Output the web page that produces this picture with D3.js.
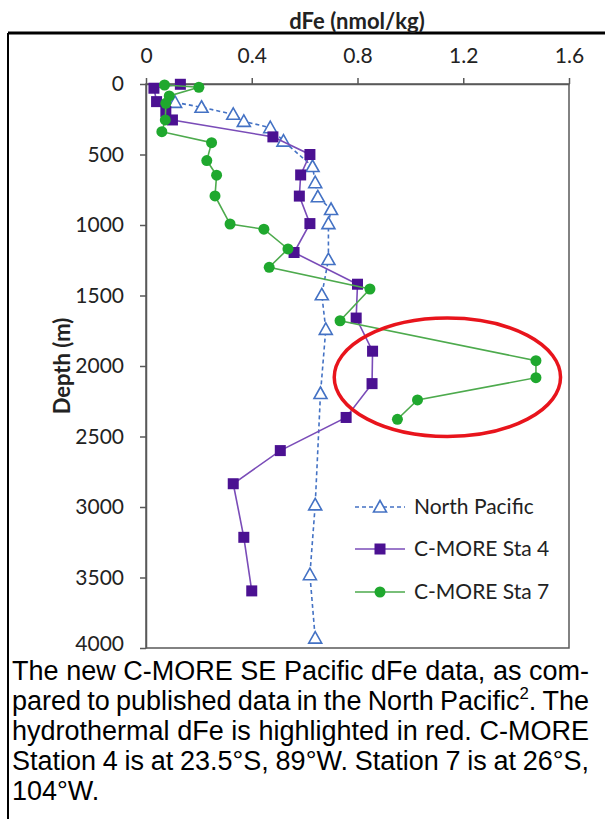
<!DOCTYPE html>
<html>
<head>
<meta charset="utf-8">
<script src="https://cdn.jsdelivr.net/npm/d3@7"></script>
<style>
  html, body { margin: 0; padding: 0; background: #fff; }
  svg { display: block; }
</style>
</head>
<body>
<svg id="chart" width="605" height="819"></svg>
<script>
// Dissolved iron profiles: depth (m) and dFe (nmol/kg)
const npDepth  = [130, 165, 215, 265, 310, 405, 585, 700, 800, 890, 990, 1245, 1495, 1740, 2195, 2985, 3480, 3930];
const npFe     = [0.11, 0.21, 0.33, 0.37, 0.47, 0.52, 0.63, 0.64, 0.65, 0.70, 0.69, 0.69, 0.665, 0.68, 0.66, 0.64, 0.62, 0.64];

const sta4Depth = [2, 30, 125, 195, 255, 375, 500, 645, 795, 990, 1195, 1420, 1660, 1895, 2125, 2365, 2600, 2835, 3215, 3595];
const sta4Fe    = [0.13, 0.03, 0.04, 0.075, 0.10, 0.48, 0.62, 0.585, 0.58, 0.62, 0.56, 0.80, 0.795, 0.857, 0.855, 0.757, 0.508, 0.33, 0.37, 0.40];

const sta7Depth = [7, 23, 85, 137, 255, 338, 416, 543, 647, 794, 993, 1030, 1170, 1300, 1454, 1679, 1962, 2083, 2241, 2378];
const sta7Fe    = [0.07, 0.20, 0.088, 0.075, 0.073, 0.06, 0.248, 0.23, 0.267, 0.261, 0.318, 0.446, 0.537, 0.466, 0.847, 0.734, 1.475, 1.475, 1.027, 0.951];

const feTicks    = [0, 0.4, 0.8, 1.2, 1.6];
const depthTicks = [0, 500, 1000, 1500, 2000, 2500, 3000, 3500, 4000];

const seriesNames = ["North Pacific", "C-MORE Sta 4", "C-MORE Sta 7"];

// Hydrothermal plume highlight (data units: dFe centre, depth centre, half-widths)
const plumeCenter = [1.14, 2080];
const plumeRadius = [0.428, 420];

const captionLines = [
  ["The new C-MORE SE Pacific dFe data, as com-"],
  ["pared to published data in the North Pacific", {sup: "2"}, ". The"],
  ["hydrothermal dFe is highlighted in red. C-MORE"],
  ["Station 4 is at 23.5°S, 89°W. Station 7 is at 26°S,"],
  ["104°W."]
];

const svg = d3.select("#chart");
const tickFont = "Lato, 'Open Sans', sans-serif";

const x = d3.scaleLinear().domain([0, 1.6]).range([146, 569]);
const y = d3.scaleLinear().domain([0, 4000]).range([84, 648]);

// Outer figure frame (top and left edges)
svg.append("line").attr("x1", 8).attr("x2", 605).attr("y1", 33).attr("y2", 33)
  .attr("stroke", "#000").attr("stroke-width", 3);
svg.append("line").attr("x1", 8).attr("x2", 8).attr("y1", 33).attr("y2", 819)
  .attr("stroke", "#000").attr("stroke-width", 2);

// Axis title above the frame
svg.append("text").attr("x", 357).attr("y", 29)
  .attr("text-anchor", "middle")
  .attr("font-family", tickFont).attr("font-weight", "bold").attr("font-size", 22)
  .attr("fill", "#222").text("dFe (nmol/kg)");

// Plot box
const axisColor = "#595959";
svg.append("rect").attr("x", x(0)).attr("y", y(0))
  .attr("width", x(1.6) - x(0)).attr("height", y(4000) - y(0))
  .attr("fill", "none").attr("stroke", axisColor).attr("stroke-width", 1.5);

const xAxis = d3.axisTop(x).tickValues(feTicks).tickSize(6).tickSizeOuter(0)
  .tickFormat(d => d === 0 ? "0" : d3.format(".1f")(d));
const gx = svg.append("g").attr("transform", `translate(0,${y(0)})`).call(xAxis);
gx.select(".domain").attr("stroke", axisColor).attr("stroke-width", 1.5);
gx.selectAll(".tick line").attr("stroke", axisColor).attr("stroke-width", 1.5);
gx.selectAll(".tick text").attr("font-family", tickFont).attr("font-size", 21)
  .attr("fill", "#222").attr("y", -21);

const yAxis = d3.axisLeft(y).tickValues(depthTicks).tickSize(6).tickSizeOuter(0)
  .tickFormat(d3.format("d"));
const gy = svg.append("g").attr("transform", `translate(${x(0)},0)`).call(yAxis);
gy.select(".domain").attr("stroke", axisColor).attr("stroke-width", 1.5);
gy.selectAll(".tick line").attr("stroke", axisColor).attr("stroke-width", 1.5);
gy.selectAll(".tick text").attr("font-family", tickFont).attr("font-size", 21)
  .attr("fill", "#222").attr("x", -22)
  // the bottom label sits a little higher so it clears the caption below
  .attr("y", d => d === 4000 ? -4 : 0);

svg.append("text")
  .attr("transform", `translate(70,${y(2000)}) rotate(-90)`)
  .attr("text-anchor", "middle")
  .attr("font-family", tickFont).attr("font-weight", "bold").attr("font-size", 22)
  .attr("fill", "#222").text("Depth (m)");

// Series
const styles = [
  {line: "#4472c4", dash: "4,3", width: 1.6, marker: "tri", fill: "#fff", stroke: "#4472c4"},
  {line: "#7a4cb8", dash: null, width: 1.6, marker: "sq", fill: "#4b1192", stroke: "#4b1192"},
  {line: "#4daa4d", dash: null, width: 1.6, marker: "dot", fill: "#1fa82e", stroke: "#1fa82e"}
];
const seriesData = [
  npDepth.map((d, i) => [npFe[i], d]),
  sta4Depth.map((d, i) => [sta4Fe[i], d]),
  sta7Depth.map((d, i) => [sta7Fe[i], d])
];

function drawMarker(g, kind, st) {
  if (kind === "tri") {
    g.append("path").attr("d", "M0,-6.5L6.5,5L-6.5,5Z")
      .attr("fill", st.fill).attr("stroke", st.stroke).attr("stroke-width", 1.6);
  } else if (kind === "sq") {
    g.append("rect").attr("x", -5.5).attr("y", -5.5).attr("width", 11).attr("height", 11)
      .attr("fill", st.fill);
  } else {
    g.append("circle").attr("r", 5.5).attr("fill", st.fill);
  }
}

const line = d3.line().x(d => x(d[0])).y(d => y(d[1]));
seriesData.forEach((data, si) => {
  const st = styles[si];
  svg.append("path").datum(data).attr("d", line)
    .attr("fill", "none").attr("stroke", st.line).attr("stroke-width", st.width)
    .attr("stroke-dasharray", st.dash);
  data.forEach(d => {
    const g = svg.append("g").attr("transform", `translate(${x(d[0])},${y(d[1])})`);
    drawMarker(g, st.marker, st);
  });
});

// Hydrothermal highlight
svg.append("ellipse")
  .attr("cx", x(plumeCenter[0])).attr("cy", y(plumeCenter[1]))
  .attr("rx", x(plumeRadius[0]) - x(0)).attr("ry", y(plumeRadius[1]) - y(0))
  .attr("fill", "none").attr("stroke", "#e8141c").attr("stroke-width", 3.5);

// Legend
const legendY = [507, 549, 592];
seriesNames.forEach((name, i) => {
  const st = styles[i];
  svg.append("line").attr("x1", 355).attr("x2", 405).attr("y1", legendY[i]).attr("y2", legendY[i])
    .attr("stroke", st.line).attr("stroke-width", st.width).attr("stroke-dasharray", st.dash);
  const g = svg.append("g").attr("transform", `translate(380,${legendY[i]})`);
  drawMarker(g, st.marker, st);
  svg.append("text").attr("x", 414).attr("y", legendY[i] + 7)
    .attr("font-family", tickFont).attr("font-size", 21).attr("fill", "#222").text(name);
});

// Caption, justified except for the final line
const capFont = "'Liberation Sans', Arial, sans-serif";
const capSize = 27;
const capLeft = 12, capRight = 589, capBase = 680, capStep = 30;

function segWords(segs) {
  // returns words, each a list of {text, sup}
  const words = [];
  let cur = [];
  segs.forEach(s => {
    if (typeof s === "string") {
      const parts = s.split(" ");
      parts.forEach((p, k) => {
        if (k > 0) { if (cur.length) words.push(cur); cur = []; }
        if (p.length) cur.push({text: p, sup: false});
      });
    } else {
      cur.push({text: s.sup, sup: true});
    }
  });
  if (cur.length) words.push(cur);
  return words;
}

const measure = svg.append("text").attr("font-family", capFont).attr("font-size", capSize)
  .attr("visibility", "hidden");
function pieceWidth(p) {
  measure.text(p.text).attr("font-size", p.sup ? capSize * 0.62 : capSize);
  return measure.node().getComputedTextLength();
}

captionLines.forEach((segs, li) => {
  const words = segWords(segs);
  const widths = words.map(w => w.reduce((s, p) => s + pieceWidth(p), 0));
  const total = d3.sum(widths);
  const last = li === captionLines.length - 1;
  measure.text("a b").attr("font-size", capSize);
  const withSpace = measure.node().getComputedTextLength();
  measure.text("ab");
  const space = withSpace - measure.node().getComputedTextLength();
  const gap = last ? space : (capRight - capLeft - total) / (words.length - 1);
  let cx = capLeft;
  const yb = capBase + li * capStep;
  words.forEach((w, wi) => {
    let px = cx;
    w.forEach(p => {
      svg.append("text").attr("x", px).attr("y", p.sup ? yb - 11 : yb)
        .attr("font-family", capFont).attr("font-size", p.sup ? capSize * 0.62 : capSize)
        .attr("fill", "#000").text(p.text);
      px += pieceWidth(p);
    });
    cx += widths[wi] + gap;
  });
});
measure.remove();
</script>
</body>
</html>
